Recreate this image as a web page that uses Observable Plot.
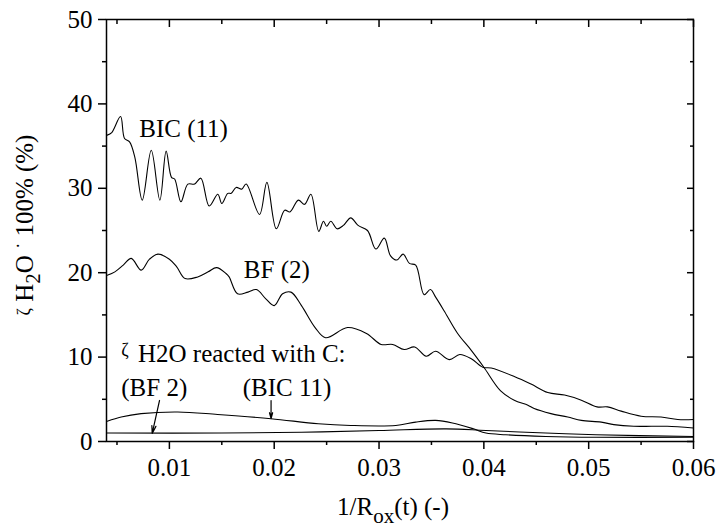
<!DOCTYPE html>
<html>
<head>
<meta charset="utf-8">
<script src="https://cdn.jsdelivr.net/npm/d3@7"></script>
<script src="https://cdn.jsdelivr.net/npm/@observablehq/plot@0.6"></script>
</head>
<body style="margin:0;background:#fff">
<div id="chart"></div>
<script>
// ---- data ----
const bicX = [0.00407,0.0045,0.00534,0.00572,0.0062,0.0067,0.00741,0.00827,0.00909,0.00969,0.0102,0.0105,0.0111,0.01176,0.0124,0.0130,0.0138,0.01462,0.0150,0.01557,0.0159,0.01637,0.0169,0.01732,0.0186,0.0193,0.0202,0.0210,0.0215,0.0223,0.0229,0.0235,0.02425,0.0247,0.0250,0.0254,0.0260,0.0266,0.0273,0.0280,0.0289,0.0297,0.0305,0.0311,0.0317,0.0323,0.0329,0.0335,0.0343,0.0349,0.0354,0.0362,0.0375,0.0388,0.0400,0.0416,0.0429,0.0442,0.0448,0.0464,0.0480,0.0493,0.0512,0.0524,0.0543,0.0560,0.0575,0.0600];
const bicY = [36.3,36.6,38.5,35.9,35.5,33.7,28.6,34.5,28.6,34.4,31.3,31.1,28.4,30.5,30.5,31.2,27.9,29.3,28.2,29.4,29.4,30.1,29.9,30.5,26.9,30.7,25.2,27.4,27.2,28.6,28.1,29.3,24.9,26.1,25.5,26.1,25.2,25.6,26.5,25.6,25.0,22.8,24.1,22.0,21.5,22.2,21.1,20.9,17.4,18.0,17.1,15.5,12.8,10.8,8.8,6.0,4.9,4.3,3.9,3.3,2.9,2.5,2.3,2.0,1.8,1.8,1.8,1.6];

const bfX = [0.00407,0.0048,0.0056,0.00636,0.00731,0.0081,0.0089,0.0100,0.0107,0.0115,0.0127,0.0137,0.0145,0.0154,0.0157,0.0165,0.0175,0.0183,0.0192,0.0200,0.0208,0.0216,0.0226,0.0239,0.0249,0.0270,0.0288,0.0302,0.0313,0.0324,0.0334,0.0345,0.0354,0.0367,0.0377,0.0388,0.0399,0.0407,0.0429,0.0445,0.0461,0.0477,0.0493,0.0508,0.0518,0.0531,0.0550,0.0569,0.0585,0.0600];
const bfY = [19.7,20.1,20.9,21.7,20.3,21.6,22.2,21.6,20.7,19.3,19.5,20.1,20.6,19.9,19.5,17.5,17.7,18.0,16.9,16.1,17.5,17.7,16.1,13.5,12.3,13.5,12.8,11.5,11.5,10.9,11.2,10.1,10.7,9.7,10.3,9.8,8.8,8.7,7.7,6.8,5.8,5.5,4.9,4.1,4.1,3.6,3.0,2.9,2.6,2.6];

const bicCX = [0.00407,0.0054,0.0073,0.0108,0.0146,0.0197,0.0242,0.0273,0.0316,0.0335,0.0354,0.0370,0.0390,0.0402,0.0421,0.0459,0.0507,0.0600];
const bicCY = [2.4,2.9,3.3,3.5,3.2,2.7,2.1,1.9,1.9,2.3,2.5,2.2,1.5,1.0,0.8,0.6,0.5,0.5];

const bfCX = [0.00407,0.0150,0.0226,0.0300,0.0364,0.0402,0.0459,0.0507,0.0600];
const bfCY = [1.0,1.0,1.1,1.3,1.5,1.3,1.0,0.8,0.6];

const xMajor = [0.01,0.02,0.03,0.04,0.05,0.06];
const xMinor = [0.005,0.015,0.025,0.035,0.045,0.055];
const yMajor = [0,10,20,30,40,50];
const yMinor = [5,15,25,35,45];

const toPts = (xs, ys) => xs.map((x, i) => ({x, y: ys[i]}));
const series = [
  toPts(bicX, bicY),
  toPts(bfX, bfY),
  toPts(bicCX, bicCY),
  toPts(bfCX, bfCY)
];

const empty = () => "";
const lines = series.map(pts => Plot.line(pts, {x: "x", y: "y", curve: "catmull-rom", stroke: "black", strokeWidth: 1.1}));

const chart = Plot.plot({
  width: 717,
  height: 531,
  marginLeft: 106,
  marginRight: 24,
  marginTop: 19,
  marginBottom: 90,
  style: {fontFamily: "Liberation Serif", fontSize: "25px"},
  x: {domain: [0.004, 0.06]},
  y: {domain: [0, 50]},
  marks: [
    ...lines,
    Plot.axisX({ticks: xMajor, tickSize: 8, tickPadding: 9, tickFormat: d => d.toFixed(2), label: null, strokeWidth: 1.5}),
    Plot.axisX({ticks: xMinor, tickSize: 4, tickFormat: empty, label: null, strokeWidth: 1.5}),
    Plot.axisX({anchor: "top", ticks: xMajor, tickSize: -7, tickFormat: empty, label: null, strokeWidth: 1.5}),
    Plot.axisX({anchor: "top", ticks: xMinor, tickSize: -4, tickFormat: empty, label: null, strokeWidth: 1.5}),
    Plot.axisY({ticks: yMajor, tickSize: 8, tickPadding: 6, tickFormat: d => String(d), label: null, strokeWidth: 1.5}),
    Plot.axisY({ticks: yMinor, tickSize: 4, tickFormat: empty, label: null, strokeWidth: 1.5}),
    Plot.axisY({anchor: "right", ticks: yMajor, tickSize: -7, tickFormat: empty, label: null, strokeWidth: 1.5}),
    Plot.axisY({anchor: "right", ticks: yMinor, tickSize: -4, tickFormat: empty, label: null, strokeWidth: 1.5}),
    Plot.frame({stroke: "black", strokeWidth: 1.5}),
    Plot.text(["BIC (11)"], {x: 0.00712, y: 36.1, text: d => d, textAnchor: "start", lineAnchor: "bottom", fontSize: 25}),
    Plot.text(["BF (2)"], {x: 0.0171, y: 19.4, text: d => d, textAnchor: "start", lineAnchor: "bottom", fontSize: 25}),
    Plot.text(["ζ"], {x: 0.00541, y: 9.4, text: d => d, textAnchor: "start", lineAnchor: "bottom", fontSize: 18, dy: -6}),
    Plot.text(["H2O reacted with C:"], {x: 0.00700, y: 9.4, text: d => d, textAnchor: "start", lineAnchor: "bottom", fontSize: 25}),
    Plot.text(["(BF 2)"], {x: 0.00541, y: 5.45, text: d => d, textAnchor: "start", lineAnchor: "bottom", fontSize: 25}),
    Plot.text(["(BIC 11)"], {x: 0.0170, y: 5.45, text: d => d, textAnchor: "start", lineAnchor: "bottom", fontSize: 25}),
    Plot.arrow([{x1: 0.00906, y1: 4.86, x2: 0.00836, y2: 0.95}, {x1: 0.0197, y1: 4.86, x2: 0.0197, y2: 2.72}],
      {x1: "x1", y1: "y1", x2: "x2", y2: "y2", stroke: "black", strokeWidth: 1.2, headLength: 10, headAngle: 30})
  ]
});

document.getElementById("chart").appendChild(chart);

const svg = d3.select(chart);
const xt = svg.append("text")
  .attr("x", 393).attr("y", 515)
  .attr("text-anchor", "middle")
  .attr("font-size", 25).attr("fill", "black");
xt.append("tspan").text("1/R");
xt.append("tspan").attr("dy", 8).attr("font-size", 21).text("ox");
xt.append("tspan").attr("dy", -8).text("(t) (-)");

const yt = svg.append("text")
  .attr("transform", "translate(33,225) rotate(-90)")
  .attr("text-anchor", "middle")
  .attr("font-size", 25).attr("fill", "black");
yt.append("tspan").attr("dy", -3).attr("font-size", 18).text("ζ");
yt.append("tspan").attr("dy", 3).text(" H");
yt.append("tspan").attr("dy", 7).attr("font-size", 21).text("2");
yt.append("tspan").attr("dy", -7).text("O ");
yt.append("tspan").attr("dy", -9).attr("font-size", 18).text("·");
yt.append("tspan").attr("dy", 9).text(" 100% (%)");
</script>
</body>
</html>
